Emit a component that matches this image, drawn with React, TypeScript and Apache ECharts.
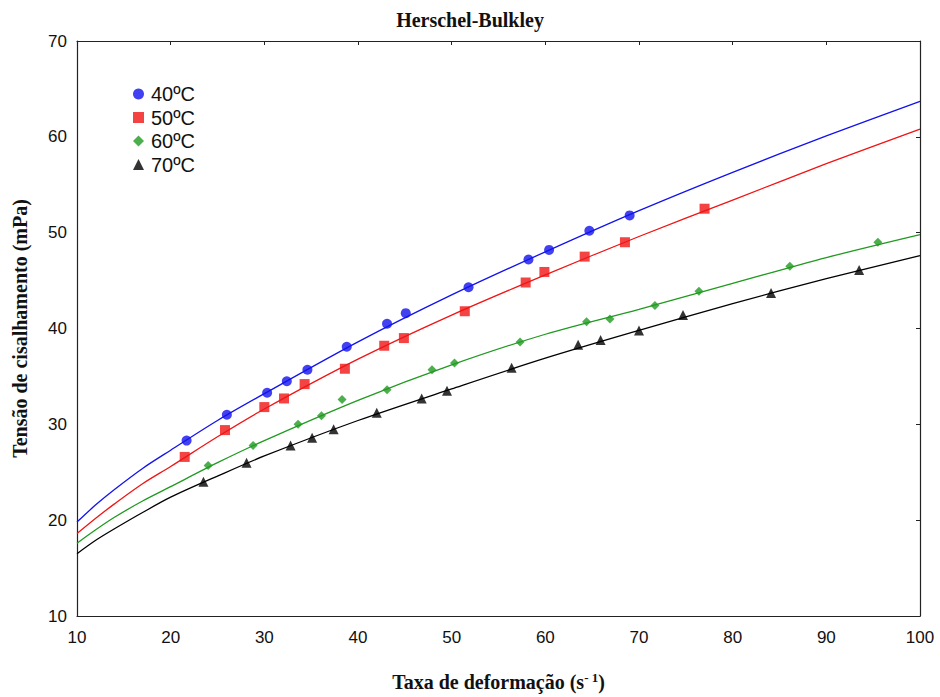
import React, { useEffect, useRef } from "react";
import * as echarts from "echarts";

const seriesNames = ["40ºC", "50ºC", "60ºC", "70ºC"];
const colors = ["#1212ee", "#f01414", "#1f9a1f", "#000000"];
const symbols = ["circle", "rect", "diamond", "triangle"];
const symbolSizes = [10, 10, 9, 10];

// measured points
const x40 = [21.7, 26.0, 30.3, 32.4, 34.6, 38.8, 43.1, 45.1, 51.8, 58.2, 60.4, 64.7, 69.0];
const y40 = [28.3, 31.0, 33.3, 34.5, 35.7, 38.1, 40.5, 41.6, 44.3, 47.2, 48.2, 50.2, 51.8];
const x50 = [21.5, 25.8, 30.0, 32.1, 34.3, 38.6, 42.8, 44.9, 51.4, 57.9, 59.9, 64.2, 68.5, 77.0];
const y50 = [26.6, 29.4, 31.8, 32.7, 34.2, 35.8, 38.2, 39.0, 41.8, 44.8, 45.9, 47.5, 49.0, 52.5];
const x60 = [24.0, 28.8, 33.6, 36.1, 38.3, 43.1, 47.9, 50.3, 57.3, 64.4, 66.9, 71.7, 76.4, 86.1, 95.5];
const y60 = [25.7, 27.8, 30.0, 30.9, 32.6, 33.6, 35.7, 36.4, 38.6, 40.7, 41.0, 42.4, 43.9, 46.5, 49.0];
const x70 = [23.5, 28.1, 32.8, 35.1, 37.4, 42.0, 46.8, 49.5, 56.4, 63.5, 65.9, 70.0, 74.7, 84.1, 93.5];
const y70 = [24.0, 26.0, 27.8, 28.6, 29.5, 31.2, 32.7, 33.5, 35.9, 38.3, 38.8, 39.8, 41.4, 43.7, 46.1];

// fitted curves
const fitX = [10, 12, 14, 17, 20, 25, 30, 40, 50, 60, 70, 80, 90, 100];
const fit40 = [19.8, 21.6, 23.2, 25.4, 27.3, 30.4, 33.2, 38.6, 43.5, 48.0, 52.3, 56.3, 60.1, 63.7];
const fit50 = [18.6, 20.2, 21.7, 23.8, 25.6, 28.7, 31.6, 36.8, 41.4, 45.6, 49.6, 53.4, 57.2, 60.8];
const fit60 = [17.6, 19.0, 20.3, 22.0, 23.5, 26.0, 28.3, 32.5, 36.2, 39.4, 42.0, 44.7, 47.4, 49.8];
const fit70 = [16.5, 17.9, 19.1, 20.8, 22.4, 24.6, 26.7, 30.4, 33.7, 36.9, 39.8, 42.6, 45.2, 47.6];

const xTicks = [10, 20, 30, 40, 50, 60, 70, 80, 90, 100];
const yTicks = [10, 20, 30, 40, 50, 60, 70];

const pointsX = [x40, x50, x60, x70];
const pointsY = [y40, y50, y60, y70];
const fits = [fit40, fit50, fit60, fit70];

export default function App() {
  const ref = useRef<HTMLDivElement>(null);
  useEffect(() => {
    if (!ref.current) return;
    const chart = echarts.init(ref.current, null, { renderer: "svg" });
    const series: any[] = [];
    fits.forEach((f, i) => {
      series.push({
        name: seriesNames[i] + " fit",
        type: "line",
        data: fitX.map((x, j) => [x, f[j]]),
        smooth: 0.3,
        showSymbol: false,
        symbol: "none",
        lineStyle: { color: colors[i], width: 1.3 },
        z: 2,
        silent: true,
      });
    });
    pointsX.forEach((xs, i) => {
      series.push({
        name: seriesNames[i],
        type: "scatter",
        data: xs.map((x, j) => [x, pointsY[i][j]]),
        symbol: symbols[i],
        symbolSize: symbolSizes[i],
        itemStyle: { color: colors[i] },
        z: 3,
      });
    });
    const labelFont = { fontFamily: "Liberation Sans", fontSize: 17, color: "#111" };
    const axisNameFont = { fontFamily: "Liberation Serif", fontWeight: "bold", fontSize: 20, color: "#111" };
    chart.setOption({
      animation: false,
      backgroundColor: "#fff",
      title: {
        text: "Herschel-Bulkley",
        left: "center",
        top: 5,
        textStyle: { fontFamily: "Liberation Serif", fontWeight: "bold", fontSize: 20, color: "#111" },
      },
      legend: {
        data: seriesNames,
        orient: "vertical",
        left: 128,
        top: 79,
        itemWidth: 11,
        itemHeight: 11,
        itemGap: 3.5,
        textStyle: { fontFamily: "Liberation Sans", fontSize: 20, color: "#111", padding: [0, 0, 0, 2] },
      },
      grid: { left: 77, right: 20, top: 41, bottom: 76, containLabel: false },
      xAxis: [
        {
          type: "value",
          min: xTicks[0],
          max: xTicks[xTicks.length - 1],
          interval: 10,
          position: "bottom",
          name: "Taxa de deformação (s{sup|- 1})",
          nameLocation: "middle",
          nameGap: 55,
          nameTextStyle: {
            ...axisNameFont,
            rich: {
              sup: { fontFamily: "Liberation Serif", fontWeight: "bold", fontSize: 13, verticalAlign: "top", padding: [0, 0, 9, 0], color: "#111" },
            },
          },
          axisLine: { show: true, lineStyle: { color: "#222", width: 1.2 } },
          axisTick: { show: false },
          axisLabel: { ...labelFont, margin: 13 },
          splitLine: { show: false },
        },
        {
          type: "value",
          min: xTicks[0],
          max: xTicks[xTicks.length - 1],
          interval: 10,
          position: "top",
          axisLine: { show: true, lineStyle: { color: "#222", width: 1.2 } },
          axisTick: { show: true, inside: true, length: 4, lineStyle: { color: "#222" } },
          axisLabel: { show: false },
          splitLine: { show: false },
        },
      ],
      yAxis: [
        {
          type: "value",
          min: yTicks[0],
          max: yTicks[yTicks.length - 1],
          interval: 10,
          position: "left",
          name: "Tensão de cisalhamento (mPa)",
          nameLocation: "middle",
          nameGap: 47,
          nameTextStyle: axisNameFont,
          axisLine: { show: true, lineStyle: { color: "#222", width: 1.2 } },
          axisTick: { show: false },
          axisLabel: { ...labelFont, margin: 10 },
          splitLine: { show: false },
        },
        {
          type: "value",
          min: yTicks[0],
          max: yTicks[yTicks.length - 1],
          interval: 10,
          position: "right",
          axisLine: { show: true, lineStyle: { color: "#222", width: 1.2 } },
          axisTick: { show: true, inside: true, length: 4, lineStyle: { color: "#222" } },
          axisLabel: { show: false },
          splitLine: { show: false },
        },
      ],
      series,
    });
    return () => chart.dispose();
  }, []);
  return (
    <div
      ref={ref}
      style={{ position: "fixed", left: 0, top: 0, width: 940, height: 697, background: "#fff" }}
    />
  );
}
